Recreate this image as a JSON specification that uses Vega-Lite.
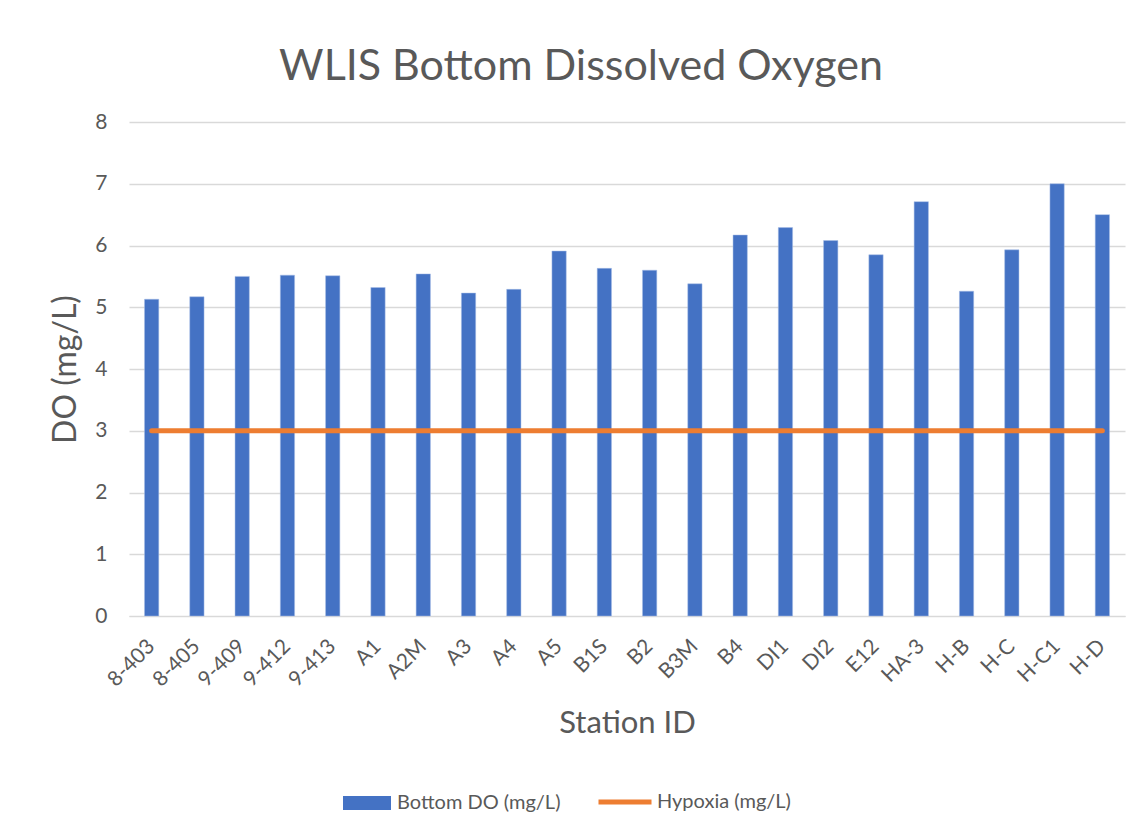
{
  "$schema": "https://vega.github.io/schema/vega-lite/v6.json",
  "width": 996,
  "height": 494,
  "autosize": {"type": "none"},
  "padding": {"left": 129, "top": 122, "right": 18, "bottom": 217},
  "background": "white",
  "config": {"view": {"stroke": null}, "font": "Lato"},
  "title": {
    "text": "WLIS Bottom Dissolved Oxygen",
    "font": "Lato",
    "fontSize": 43,
    "fontWeight": "normal",
    "color": "#595959",
    "anchor": "middle",
    "frame": "group",
    "baseline": "alphabetic",
    "offset": 44,
    "dx": -46,
    "dy": 56
  },
  "datasets": {
    "bars": [
      {"station": "8-403", "value": 5.13, "series": "Bottom DO (mg/L)"},
      {"station": "8-405", "value": 5.17, "series": "Bottom DO (mg/L)"},
      {"station": "9-409", "value": 5.50, "series": "Bottom DO (mg/L)"},
      {"station": "9-412", "value": 5.52, "series": "Bottom DO (mg/L)"},
      {"station": "9-413", "value": 5.51, "series": "Bottom DO (mg/L)"},
      {"station": "A1", "value": 5.32, "series": "Bottom DO (mg/L)"},
      {"station": "A2M", "value": 5.54, "series": "Bottom DO (mg/L)"},
      {"station": "A3", "value": 5.23, "series": "Bottom DO (mg/L)"},
      {"station": "A4", "value": 5.29, "series": "Bottom DO (mg/L)"},
      {"station": "A5", "value": 5.91, "series": "Bottom DO (mg/L)"},
      {"station": "B1S", "value": 5.63, "series": "Bottom DO (mg/L)"},
      {"station": "B2", "value": 5.60, "series": "Bottom DO (mg/L)"},
      {"station": "B3M", "value": 5.38, "series": "Bottom DO (mg/L)"},
      {"station": "B4", "value": 6.17, "series": "Bottom DO (mg/L)"},
      {"station": "DI1", "value": 6.29, "series": "Bottom DO (mg/L)"},
      {"station": "DI2", "value": 6.08, "series": "Bottom DO (mg/L)"},
      {"station": "E12", "value": 5.85, "series": "Bottom DO (mg/L)"},
      {"station": "HA-3", "value": 6.71, "series": "Bottom DO (mg/L)"},
      {"station": "H-B", "value": 5.26, "series": "Bottom DO (mg/L)"},
      {"station": "H-C", "value": 5.93, "series": "Bottom DO (mg/L)"},
      {"station": "H-C1", "value": 7.00, "series": "Bottom DO (mg/L)"},
      {"station": "H-D", "value": 6.50, "series": "Bottom DO (mg/L)"}
    ],
    "hypoxia": [
      {"station": "8-403", "value": 3, "series": "Hypoxia (mg/L)"},
      {"station": "8-405", "value": 3, "series": "Hypoxia (mg/L)"},
      {"station": "9-409", "value": 3, "series": "Hypoxia (mg/L)"},
      {"station": "9-412", "value": 3, "series": "Hypoxia (mg/L)"},
      {"station": "9-413", "value": 3, "series": "Hypoxia (mg/L)"},
      {"station": "A1", "value": 3, "series": "Hypoxia (mg/L)"},
      {"station": "A2M", "value": 3, "series": "Hypoxia (mg/L)"},
      {"station": "A3", "value": 3, "series": "Hypoxia (mg/L)"},
      {"station": "A4", "value": 3, "series": "Hypoxia (mg/L)"},
      {"station": "A5", "value": 3, "series": "Hypoxia (mg/L)"},
      {"station": "B1S", "value": 3, "series": "Hypoxia (mg/L)"},
      {"station": "B2", "value": 3, "series": "Hypoxia (mg/L)"},
      {"station": "B3M", "value": 3, "series": "Hypoxia (mg/L)"},
      {"station": "B4", "value": 3, "series": "Hypoxia (mg/L)"},
      {"station": "DI1", "value": 3, "series": "Hypoxia (mg/L)"},
      {"station": "DI2", "value": 3, "series": "Hypoxia (mg/L)"},
      {"station": "E12", "value": 3, "series": "Hypoxia (mg/L)"},
      {"station": "HA-3", "value": 3, "series": "Hypoxia (mg/L)"},
      {"station": "H-B", "value": 3, "series": "Hypoxia (mg/L)"},
      {"station": "H-C", "value": 3, "series": "Hypoxia (mg/L)"},
      {"station": "H-C1", "value": 3, "series": "Hypoxia (mg/L)"},
      {"station": "H-D", "value": 3, "series": "Hypoxia (mg/L)"}
    ]
  },
  "encoding": {
    "x": {
      "field": "station",
      "type": "nominal",
      "sort": null,
      "scale": {"paddingInner": 0.684, "paddingOuter": 0.342},
      "axis": {
        "title": "Station ID",
        "titleFont": "Lato",
        "titleFontSize": 31,
        "titleFontWeight": "normal",
        "titleColor": "#595959",
        "titleX": 498,
        "titleY": 116,
        "titleAlign": "center",
        "titleBaseline": "alphabetic",
        "labelAngle": -45,
        "labelAlign": "right",
        "labelBaseline": "middle",
        "labelFont": "Lato",
        "labelFontSize": 21,
        "labelColor": "#595959",
        "labelPadding": 27,
        "ticks": false,
        "tickSize": 0,
        "domain": true,
        "domainColor": "#D9D9D9",
        "domainWidth": 1,
        "grid": false
      }
    },
    "y": {
      "field": "value",
      "type": "quantitative",
      "scale": {"domain": [0, 8], "nice": false},
      "axis": {
        "title": "DO (mg/L)",
        "titleFont": "Lato",
        "titleFontSize": 32,
        "titleFontWeight": "normal",
        "titleColor": "#595959",
        "titleX": -64,
        "titleY": 247,
        "titleAlign": "center",
        "titleBaseline": "middle",
        "titleAngle": -90,
        "values": [0, 1, 2, 3, 4, 5, 6, 7, 8],
        "labelFont": "Lato",
        "labelFontSize": 21,
        "labelColor": "#595959",
        "labelPadding": 22,
        "ticks": false,
        "tickSize": 0,
        "domain": false,
        "grid": true,
        "gridColor": "#D9D9D9",
        "gridWidth": 1.3
      }
    }
  },
  "layer": [
    {
      "data": {"name": "bars"},
      "mark": {"type": "bar", "stroke": "#A9BFE6", "strokeWidth": 0.5},
      "encoding": {
        "fill": {
          "field": "series",
          "type": "nominal",
          "scale": {"range": ["#4472C4"]},
          "legend": {
            "title": null,
            "orient": "none",
            "legendX": 214,
            "legendY": 657,
            "padding": 0,
            "symbolType": "M-1,-0.29H1V0.29H-1Z",
            "symbolSize": 2304,
            "symbolStrokeWidth": 0,
            "labelOffset": 6,
            "labelFont": "Lato",
            "labelFontSize": 20,
            "labelColor": "#595959",
            "labelLimit": 400
          }
        }
      }
    },
    {
      "data": {"name": "hypoxia"},
      "mark": {"type": "line", "strokeWidth": 5, "strokeCap": "round"},
      "encoding": {
        "stroke": {
          "field": "series",
          "type": "nominal",
          "scale": {"range": ["#ED7D31"]},
          "legend": {
            "title": null,
            "orient": "none",
            "legendX": 467,
            "legendY": 651,
            "padding": 0,
            "symbolType": "stroke",
            "symbolSize": 2809,
            "symbolStrokeWidth": 5,
            "labelOffset": 3,
            "labelFont": "Lato",
            "labelFontSize": 20,
            "labelColor": "#595959",
            "labelLimit": 400
          }
        }
      }
    }
  ]
}
